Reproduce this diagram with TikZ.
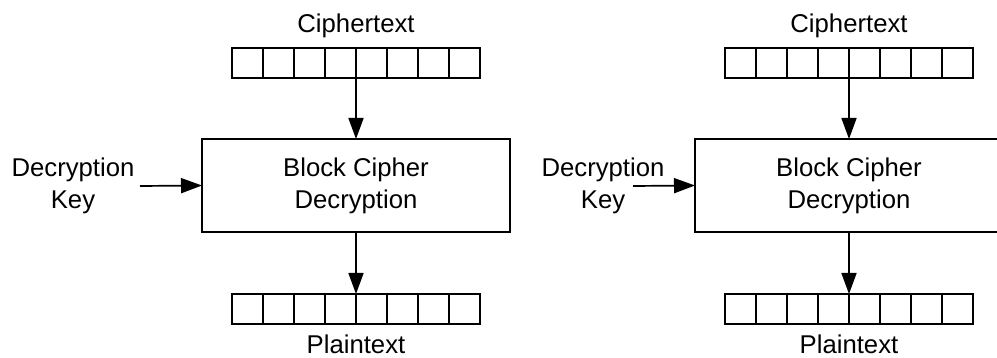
\documentclass[tikz,border=0pt]{standalone}
\usepackage{fontspec}
\setmainfont{Liberation Sans}
\usetikzlibrary{arrows.meta}
\begin{document}
\begin{tikzpicture}[x=1pt,y=-1pt,
  ln/.style={line width=1.7pt},
  cell/.style={draw, ln, minimum width=31pt, minimum height=30pt, inner sep=0pt, outer sep=0pt},
  cipherbox/.style={draw, ln, minimum width=308pt, minimum height=93pt, align=center, inner sep=0pt, outer sep=0pt, font=\fontsize{25.7}{32}\selectfont},
  lbl/.style={font=\fontsize{25.7}{32}\selectfont, inner sep=0pt, align=center},
  arr/.style={ln, -{Triangle[length=21pt,width=15pt]}}]
\useasboundingbox (0,0) rectangle (997,358);
\clip (0,0) rectangle (997,358);
% ---------- left diagram ----------
\node[lbl, anchor=base] (ctL) at (356,33) {Ciphertext};
\foreach \i in {1,...,8} {
  \node[cell] (cL\i) at ({232+31*(\i-0.5)},63) {};
}
\node[cipherbox] (bL) at (356,185.5) {Block Cipher\\Decryption};
\foreach \i in {1,...,8} {
  \node[cell] (pL\i) at ({232+31*(\i-0.5)},309) {};
}
\node[lbl, anchor=base] (ptL) at (356,353) {Plaintext};
\node[lbl] (kL) at (73,186) {Decryption\\Key};
\coordinate (kLs) at (140,186);
\draw[arr] (cL4.south east) -- (cL4.south east |- bL.north);
\draw[arr] (pL4.north east |- bL.south) -- (pL4.north east);
\draw[arr] (kLs) -- (bL.west);
% ---------- right diagram ----------
\node[lbl, anchor=base] (ctR) at (849,33) {Ciphertext};
\foreach \i in {1,...,8} {
  \node[cell] (cR\i) at ({725+31*(\i-0.5)},63) {};
}
\node[cipherbox] (bR) at (849,185.5) {Block Cipher\\Decryption};
\foreach \i in {1,...,8} {
  \node[cell] (pR\i) at ({725+31*(\i-0.5)},309) {};
}
\node[lbl, anchor=base] (ptR) at (849,353) {Plaintext};
\node[lbl] (kR) at (603,186) {Decryption\\Key};
\coordinate (kRs) at (633,186);
\draw[arr] (cR4.south east) -- (cR4.south east |- bR.north);
\draw[arr] (pR4.north east |- bR.south) -- (pR4.north east);
\draw[arr] (kRs) -- (bR.west);
\end{tikzpicture}
\end{document}
